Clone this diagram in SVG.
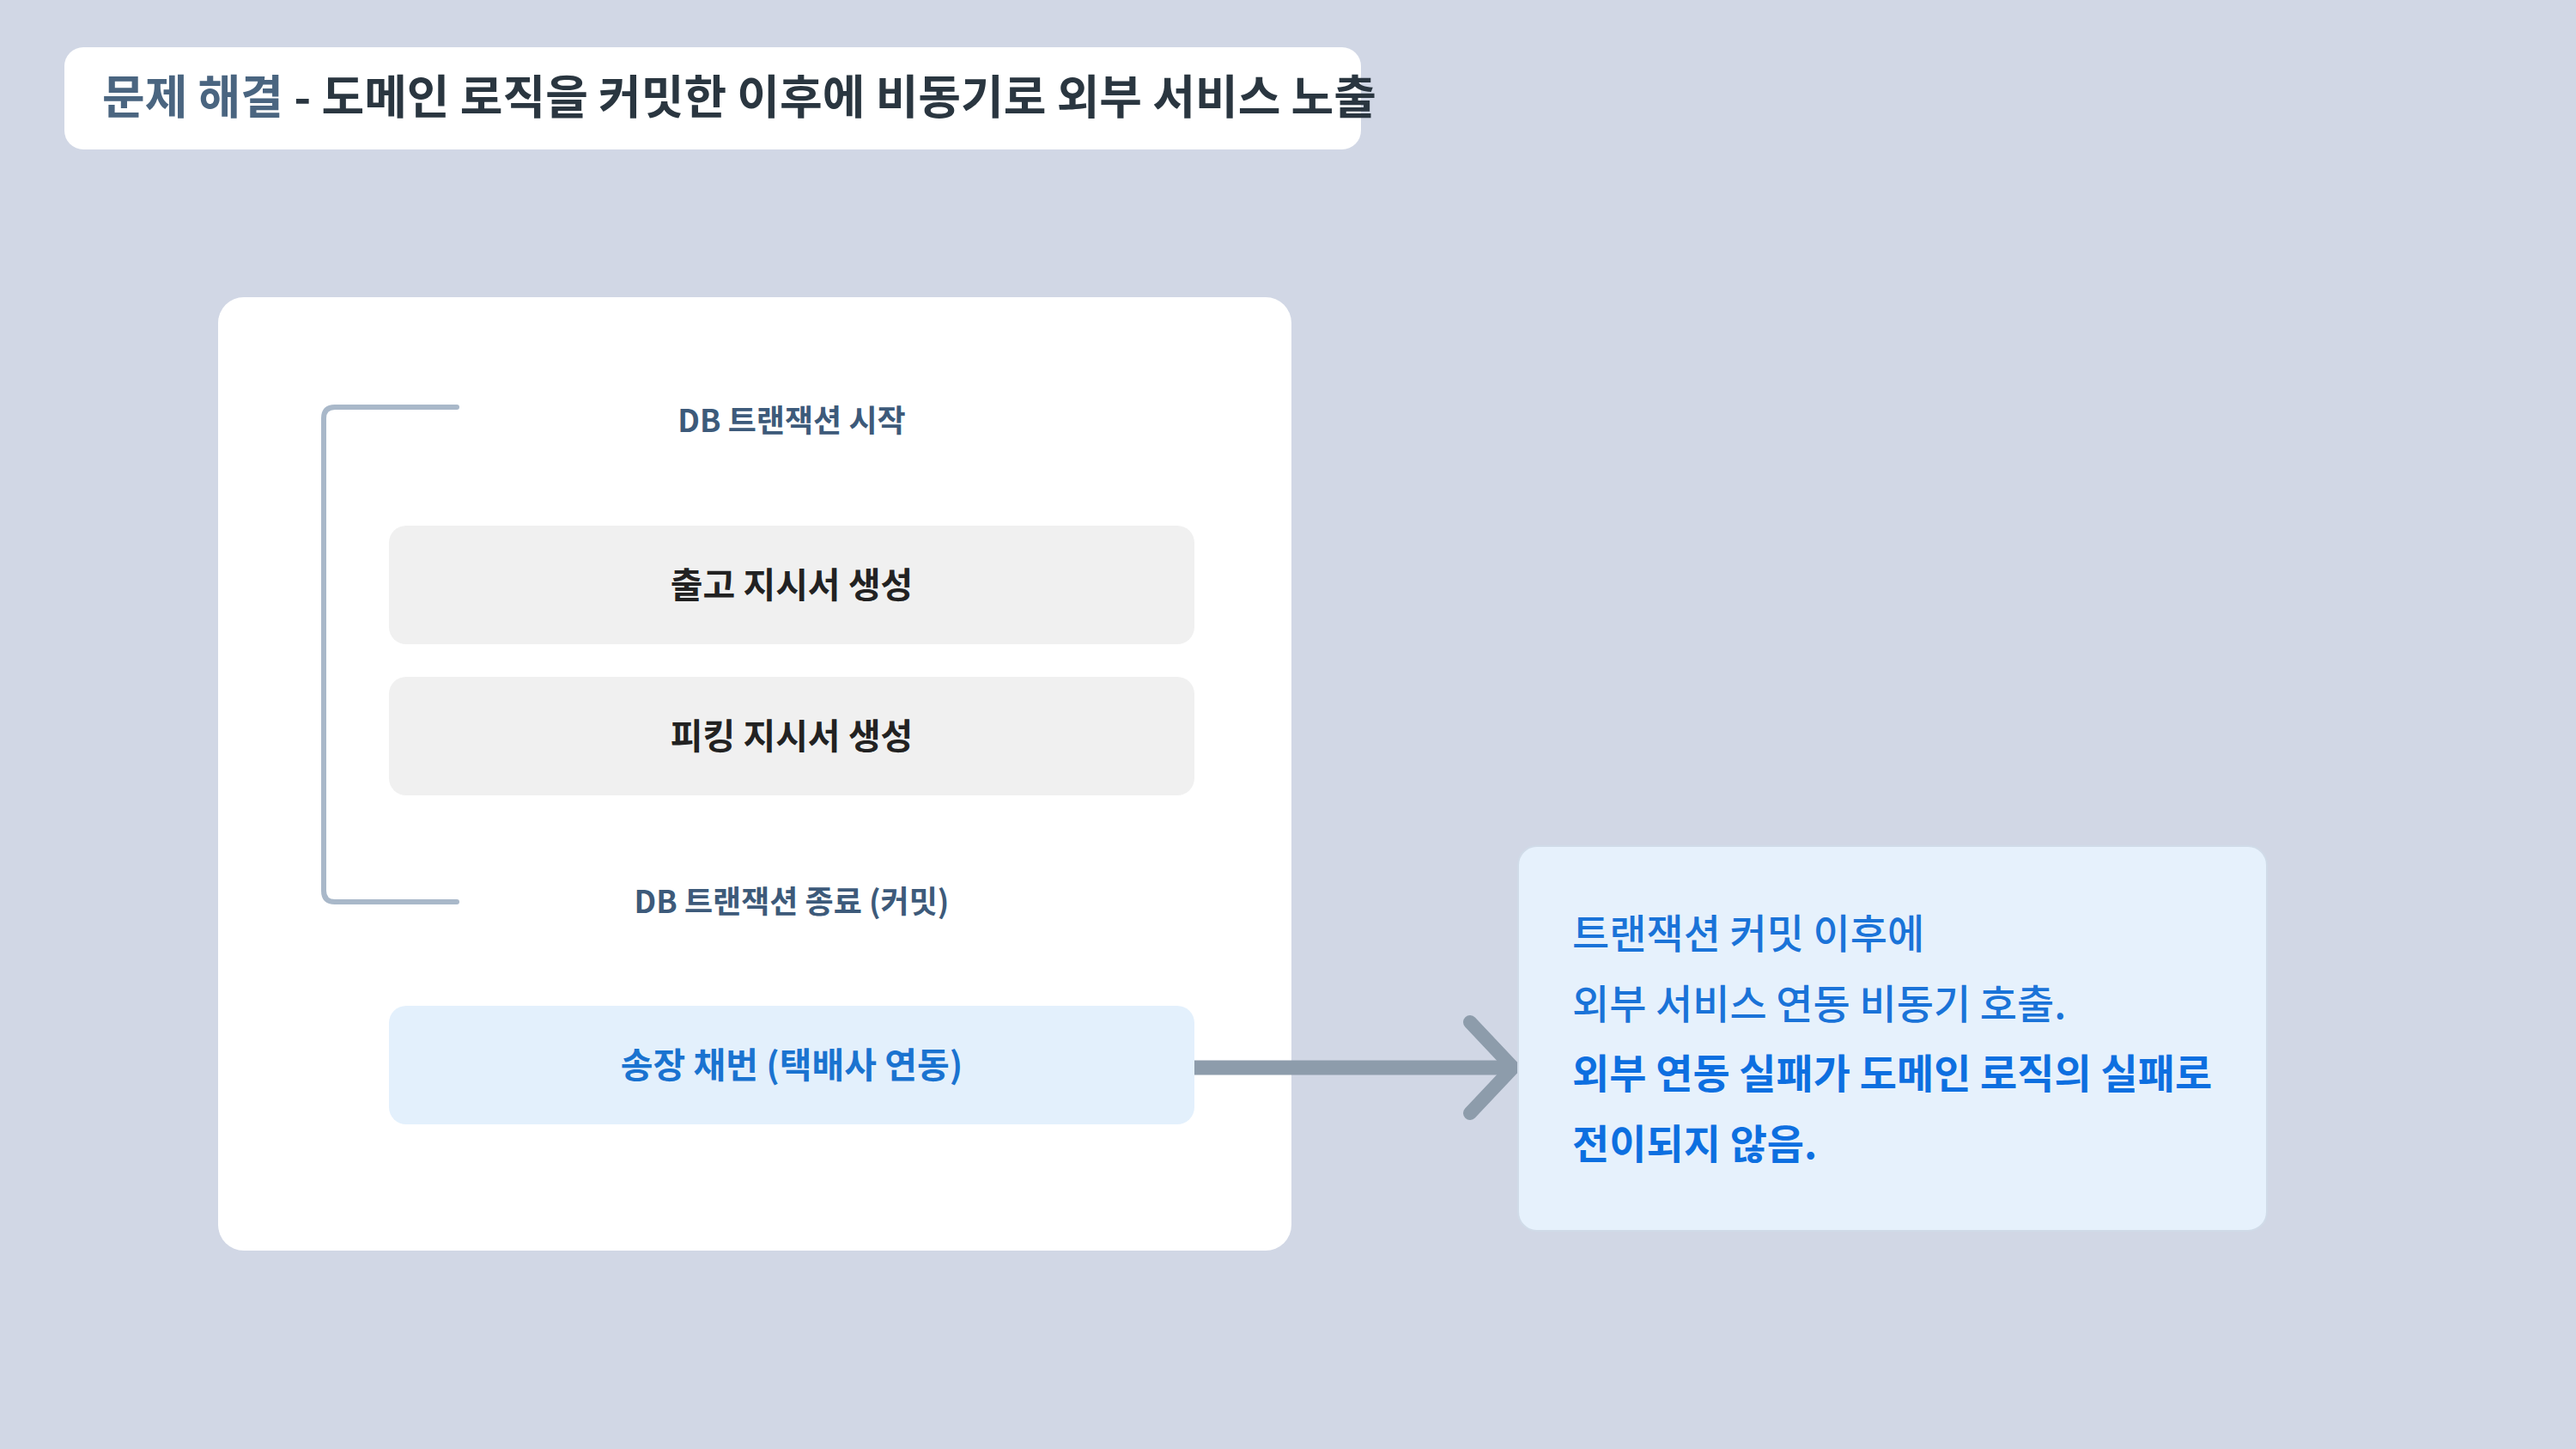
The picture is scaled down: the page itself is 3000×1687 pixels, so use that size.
<svg xmlns="http://www.w3.org/2000/svg" width="3000" height="1687" viewBox="0 0 3000 1687">
<style>
text{font-family:"Noto Sans CJK KR","Noto Sans",sans-serif;font-weight:700}
.lbl{font-size:36px;fill:#3d5a7a;text-anchor:middle}
.box{font-size:41px;fill:#222;text-anchor:middle}
.note{font-size:47px;fill:#1a73d8}
</style>
<rect width="3000" height="1687" fill="#d1d7e5"/>
<g id="title">
<rect x="75" y="55" width="1510" height="119" rx="22" fill="#fff"/>
<text x="119" y="133" font-size="54" fill="#2a3640"><tspan fill="#4a6580">문제 해결</tspan> - 도메인 로직을 커밋한 이후에 비동기로 외부 서비스 노출</text>
</g>
<g id="card"><rect x="254" y="346" width="1250" height="1110" rx="30" fill="#fff"/></g>
<g id="connectors" fill="none" stroke-linecap="round" stroke-linejoin="round">
<path d="M532 474 H390 Q377 474 377 487 V1037 Q377 1050 390 1050 H532" stroke="#a9b8c9" stroke-width="6"/>
<path d="M1391 1243 H1760" stroke="#8d9cab" stroke-width="17" stroke-linecap="butt"/>
<path d="M1712 1190 L1762 1243 L1712 1296" stroke="#8d9cab" stroke-width="16"/>
</g>
<g id="start"><text class="lbl" x="922" y="503">DB 트랜잭션 시작</text></g>
<g id="n1"><rect x="453" y="612" width="938" height="138" rx="20" fill="#f0f0f0"/><text class="box" x="922" y="696">출고 지시서 생성</text></g>
<g id="n2"><rect x="453" y="788" width="938" height="138" rx="20" fill="#f0f0f0"/><text class="box" x="922" y="872">피킹 지시서 생성</text></g>
<g id="end"><text class="lbl" x="922" y="1063">DB 트랜잭션 종료 (커밋)</text></g>
<g id="n3"><rect x="453" y="1171" width="938" height="138" rx="20" fill="#e3f0fc"/><text class="box" x="922" y="1255" fill="#1a73d0" style="fill:#1a73d0">송장 채번 (택배사 연동)</text></g>
<g id="note">
<rect x="1768" y="985" width="872" height="448" rx="22" fill="#e6f1fc" stroke="#d0dbe8" stroke-width="2"/>
<text class="note" x="1831" y="1104" font-weight="500" style="font-weight:500">트랜잭션 커밋 이후에</text>
<text class="note" x="1831" y="1186" style="font-weight:500">외부 서비스 연동 비동기 호출.</text>
<text class="note" x="1831" y="1267" style="fill:#0d6fe0">외부 연동 실패가 도메인 로직의 실패로</text>
<text class="note" x="1831" y="1349" style="fill:#0d6fe0">전이되지 않음.</text>
</g>
</svg>
